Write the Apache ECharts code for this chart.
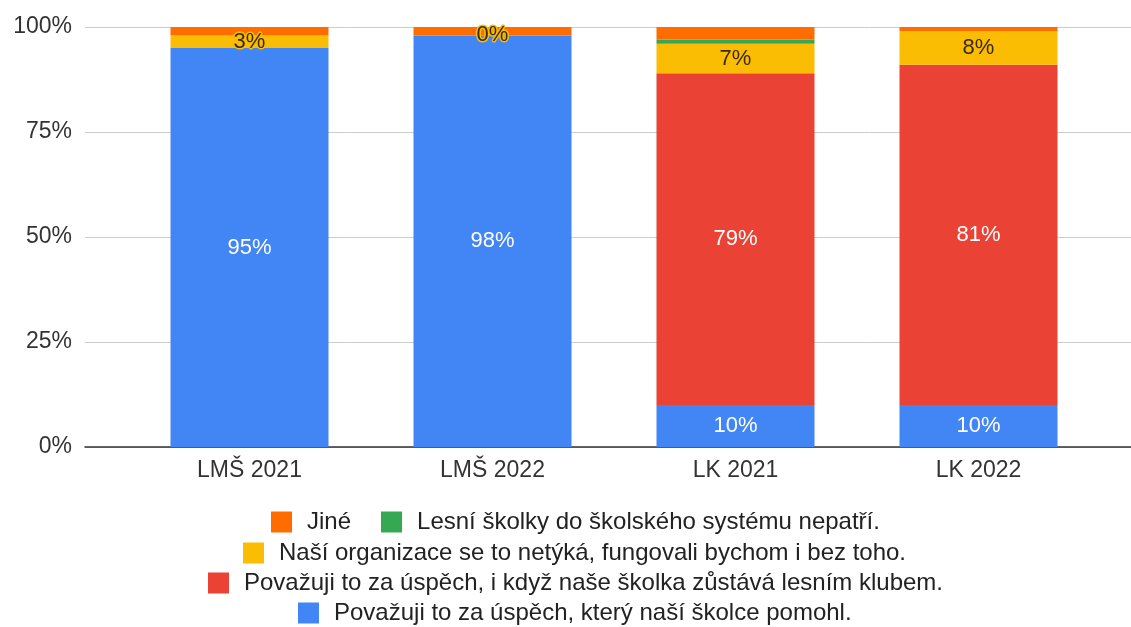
<!DOCTYPE html>
<html>
<head>
<meta charset="utf-8">
<script src="https://cdn.jsdelivr.net/npm/echarts@6/dist/echarts.min.js"></script>
<style>
  html, body { margin: 0; padding: 0; background: #fff; }
  #main { width: 1131px; height: 627px; }
</style>
</head>
<body>
<div id="main"></div>
<script>
// kategorie a hodnoty (v %)
const categories = ['LMŠ 2021', 'LMŠ 2022', 'LK 2021', 'LK 2022']
const pomohl = [95, 98, 10, 10]
const klub = [null, null, 79, 81]
const netyka = [3, 0, 7, 8]
const nepatri = [0, 0, 1, 0]
const jine = [2, 2, 3, 1]

const names = {
  jine: 'Jiné',
  nepatri: 'Lesní školky do školského systému nepatří.',
  netyka: 'Naší organizace se to netýká, fungovali bychom i bez toho.',
  klub: 'Považuji to za úspěch, i když naše školka zůstává lesním klubem.',
  pomohl: 'Považuji to za úspěch, který naší školce pomohl.'
}

const font = 'Liberation Sans, Arial, sans-serif'
const pct = p => (p.value == null ? '' : p.value + '%')

function bar(name, data, color, label) {
  return {
    name: name,
    type: 'bar',
    stack: 'all',
    data: data,
    barWidth: 158,
    itemStyle: { color: color },
    label: label ? Object.assign({ show: true, position: 'inside', formatter: pct, fontFamily: font, fontSize: 22 }, label) : { show: false }
  }
}

// legenda není přesně na středu (střed řádků ~575px), šířku řádku si změřím
const legendFontSize = 24
const iconSize = 21
const textPad = 10
const itemGap = 30
const ctx = document.createElement('canvas').getContext('2d')
ctx.font = legendFontSize + 'px ' + font
function legendRow(top, items) {
  let w = 0
  items.forEach((t, i) => {
    w += iconSize + 5 + textPad + ctx.measureText(t).width
    if (i > 0) w += itemGap
  })
  return {
    left: Math.round(575 - w / 2),
    top: top,
    padding: 0,
    icon: 'rect',
    itemWidth: iconSize,
    itemHeight: iconSize,
    itemGap: itemGap,
    textStyle: { fontFamily: font, fontSize: legendFontSize, color: '#222', padding: [0, 0, 0, textPad] },
    data: items
  }
}

const myChart = echarts.init(document.getElementById('main'))
myChart.setOption({
  animation: false,
  grid: [
    { left: 128, right: 31, top: 27, bottom: 180 },
    { left: 85, right: 0, top: 27, bottom: 180 }
  ],
  xAxis: [
    {
      gridIndex: 0,
      type: 'category',
      data: categories,
      axisLine: { show: false },
      axisTick: { show: false },
      axisLabel: { fontFamily: font, fontSize: 23, color: '#333', margin: 12 }
    },
    {
      gridIndex: 1,
      type: 'value',
      min: 0,
      max: 1,
      axisLine: { show: true, lineStyle: { color: '#333', width: 1.5 } },
      axisTick: { show: false },
      axisLabel: { show: false },
      splitLine: { show: false }
    }
  ],
  yAxis: [
    {
      gridIndex: 0,
      type: 'value',
      min: 0,
      max: 100,
      show: false
    },
    {
      gridIndex: 1,
      type: 'value',
      min: 0,
      max: 100,
      interval: 25,
      axisLine: { show: false },
      axisTick: { show: false },
      axisLabel: { formatter: '{value}%', fontFamily: font, fontSize: 23, color: '#333', margin: 13 },
      splitLine: { lineStyle: { color: '#cccccc' } }
    }
  ],
  legend: [
    legendRow(510, [names.jine, names.nepatri]),
    legendRow(541, [names.netyka]),
    legendRow(571, [names.klub]),
    legendRow(601, [names.pomohl])
  ],
  series: [
    bar(names.pomohl, pomohl, '#4285F4', { color: '#fff' }),
    bar(names.klub, klub, '#EA4335', { color: '#fff' }),
    bar(names.netyka, netyka, '#FBBC04', { color: '#3a2a00', textBorderColor: '#FBBC04', textBorderWidth: 3 }),
    bar(names.nepatri, nepatri, '#34A853', null),
    bar(names.jine, jine, '#FF6D01', null)
  ]
})
</script>
</body>
</html>
